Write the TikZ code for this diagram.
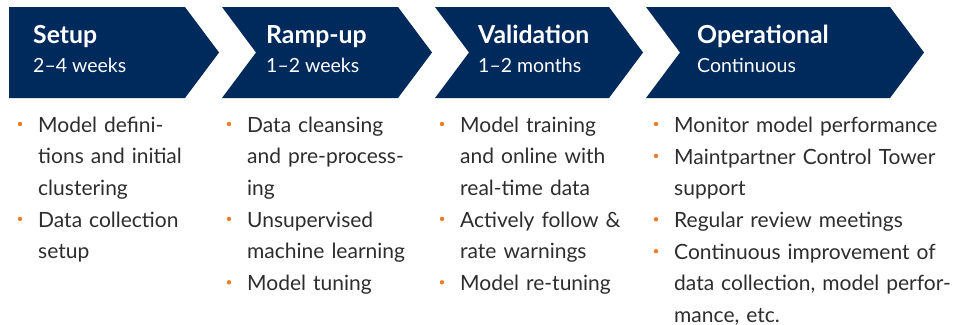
\documentclass[tikz,border=0pt]{standalone}
\usepackage{fontspec}
\setmainfont{Lato}
\definecolor{navy}{RGB}{0,42,92}
\definecolor{dotorange}{RGB}{240,125,35}
\definecolor{bodytext}{RGB}{45,45,45}
\newcommand{\lnstrut}{\rule[-9.5pt]{0pt}{31.5pt}}
\tikzset{
	phase/.style={fill=navy},
	title/.style={anchor=base west,inner sep=0,text=white,font=\fontsize{24.8}{28}\selectfont\bfseries},
	span/.style={anchor=base west,inner sep=0,text=white,font=\fontsize{19.5}{22}\selectfont},
	item/.style={anchor=north west,inner sep=0,align=left,text width=280pt,text=bodytext,
		font=\fontsize{21}{31.5}\selectfont,execute at begin node=\lnstrut,execute at end node=\lnstrut},
	dot/.style={fill=dotorange}
}
\newcommand{\bul}[1]{\fill[dot] ([xshift=-18pt,yshift=-14pt]#1.north west) circle (2.2);}
\begin{document}
\begin{tikzpicture}[x=1pt,y=-1pt]
	\useasboundingbox (0,0) rectangle (955,324);
	% chevrons
	\fill[phase] (9,7) -- (185,7) -- (219,52.5) -- (185,98) -- (9,98) -- cycle;
	\foreach \l/\r in {222/398,435/609,646/890}
		\fill[phase] (\l,7) -- (\r,7) -- (\r+34,52.5) -- (\r,98) -- (\l,98) -- (\l+34,52.5) -- cycle;
	% phase titles
	\node[title] (setup) at (33,43) {Setup};
	\node[span] (setupt) at (33,72) {2--4 weeks};
	\node[title] (ramp) at (266,43) {Ramp-up};
	\node[span] (rampt) at (266,72) {1--2 weeks};
	\node[title] (valid) at (478,43) {Validation};
	\node[span] (validt) at (478,72) {1--2 months};
	\node[title] (oper) at (697,43) {Operational};
	\node[span] (opert) at (697,72) {Continuous};
	% setup items
	\node[item] (s1) at (38,110) {Model defini-\\tions and initial\\clustering};
	\node[item] (s2) at (s1.south west) {Data collection\\setup};
	% ramp-up items
	\node[item] (r1) at (247,110) {Data cleansing\\and pre-process-\\ing};
	\node[item] (r2) at (r1.south west) {Unsupervised\\machine learning};
	\node[item] (r3) at (r2.south west) {Model tuning};
	% validation items
	\node[item] (v1) at (460,110) {Model training\\and online with\\real-time data};
	\node[item] (v2) at (v1.south west) {Actively follow \&\\rate warnings};
	\node[item] (v3) at (v2.south west) {Model re-tuning};
	% operational items
	\node[item] (o1) at (674,110) {Monitor model performance};
	\node[item] (o2) at (o1.south west) {Maintpartner Control Tower\\support};
	\node[item] (o3) at (o2.south west) {Regular review meetings};
	\node[item] (o4) at (o3.south west) {Continuous improvement of\\data collection, model perfor-\\mance, etc.};
	% bullets
	\foreach \n in {s1,s2,r1,r2,r3,v1,v2,v3,o1,o2,o3,o4}
		{\bul{\n}}
\end{tikzpicture}
\end{document}
